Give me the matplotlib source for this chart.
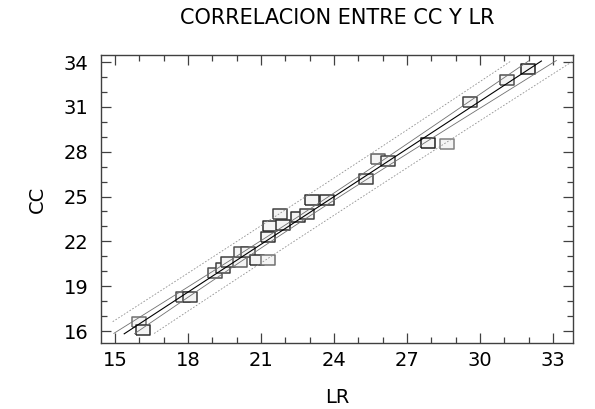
import numpy as np
import matplotlib
matplotlib.use("Agg")
import matplotlib.pyplot as plt
from matplotlib.ticker import MultipleLocator

# Data
lr = [15.99, 16.16, 17.80, 18.08, 19.10, 19.45, 19.64, 20.14, 20.18, 20.47,
      20.84, 21.29, 21.30, 21.37, 21.78, 21.92, 22.53, 22.88, 23.08, 23.70,
      25.30, 25.80, 26.20, 27.86, 28.65, 29.60, 31.10, 31.97]
cc = [16.60, 16.05, 18.30, 18.30, 19.90, 20.20, 20.60, 20.60, 21.30, 21.30,
      20.75, 20.75, 22.30, 23.00, 23.80, 23.10, 23.60, 23.80, 24.80, 24.80,
      26.20, 27.50, 27.40, 28.60, 28.50, 31.30, 32.80, 33.50]
edge_col = ['#707070', '#303030', '#505050', '#404040', '#505050', '#404040',
            '#404040', '#606060', '#505050', '#505050', '#303030', '#707070',
            '#303030', '#303030', '#404040', '#303030', '#303030', '#404040',
            '#303030', '#303030', '#404040', '#606060', '#404040', '#202020',
            '#808080', '#404040', '#505050', '#202020']
x_ticks = [15, 18, 21, 24, 27, 30, 33]
y_ticks = [16, 19, 22, 25, 28, 31, 34]

x = np.array(lr)
y = np.array(cc)
n = len(x)

# simple regression with 95% confidence and prediction limits
b, a = np.polyfit(x, y, 1)
resid = y - (a + b * x)
s = np.sqrt(np.sum(resid ** 2) / (n - 2))
t = 2.056
xm = x.mean()
sxx = np.sum((x - xm) ** 2)

xs = np.linspace(14.9, 33.8, 400)
fit = a + b * xs
se_mean = s * np.sqrt(1 / n + (xs - xm) ** 2 / sxx)
se_pred = s * np.sqrt(1 + 1 / n + (xs - xm) ** 2 / sxx)

def clip(v):
    v = v.copy()
    v[(v < 15.8) | (v > 34.1)] = np.nan
    return v

plt.rcParams['font.family'] = ['DejaVu Sans']

fig = plt.figure(figsize=(5.95, 4.09), dpi=100)
ax = fig.add_axes([101 / 595, 1 - 343 / 409, 472 / 595, 288 / 409])

ax.plot(xs, clip(fit), color='black', lw=0.8, zorder=3)
ax.plot(xs, clip(fit + t * se_mean), color='#707070', lw=0.6, zorder=3)
ax.plot(xs, clip(fit - t * se_mean), color='#707070', lw=0.6, zorder=3)
ax.plot(xs, clip(fit + t * se_pred), color='#909090', lw=0.6, ls=(0, (2, 2)), zorder=3)
ax.plot(xs, clip(fit - t * se_pred), color='#909090', lw=0.6, ls=(0, (2, 2)), zorder=3)

box = [(-1.4, -1), (1.4, -1), (1.4, 1), (-1.4, 1), (-1.4, -1)]
for xi, yi, ec in zip(lr, cc, edge_col):
    ax.plot(xi, yi, marker=box, ms=10, mfc='#f4f4f4', mec=ec, mew=1.1,
            ls='none', zorder=2)

ax.set_xlim(14.42, 33.82)
ax.set_ylim(15.2, 34.47)
ax.set_xticks(x_ticks)
ax.set_yticks(y_ticks)
ax.xaxis.set_minor_locator(MultipleLocator(1))
ax.yaxis.set_minor_locator(MultipleLocator(1))
ax.tick_params(which='both', direction='in', top=True, right=True,
               color='#404040', width=0.9)
ax.tick_params(which='major', length=7, labelsize=14)
ax.tick_params(axis='x', which='major', pad=6)
ax.tick_params(axis='y', which='major', pad=9)
ax.tick_params(which='minor', length=4)
for sp in ax.spines.values():
    sp.set_color('#404040')
    sp.set_linewidth(1.0)

ax.set_xlabel('LR', fontsize=14, labelpad=13)
ax.set_ylabel('CC', fontsize=14, labelpad=12)
ax.set_title('CORRELACION ENTRE CC Y LR', fontsize=15, pad=22)

fig.savefig('out.png', dpi=100)
